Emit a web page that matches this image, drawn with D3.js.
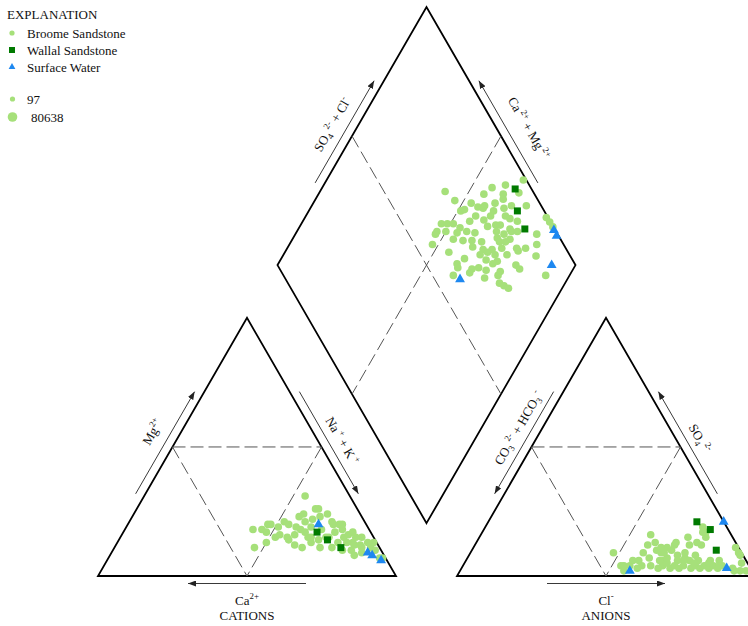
<!DOCTYPE html>
<html>
<head>
<meta charset="utf-8">
<script src="https://cdn.jsdelivr.net/npm/d3@7"></script>
<style>
  html, body { margin: 0; padding: 0; background: #fff; }
  svg { display: block; font-family: "Liberation Serif", "Times New Roman", serif; }
</style>
</head>
<body>
<svg id="chart" width="748" height="626"></svg>
<script>
// ---- Series and legend text ----
const seriesNames = ["Broome Sandstone", "Wallal Sandstone", "Surface Water"];
const sizeLegendValues = [97, 80638];

// Cation percentages per sample: [Mg2+, Na+ + K+]  (Ca2+ is the remainder)
const broomeCations = [
  [31,54],[18,43],[11,47],[17,48],[20,47],[20,48],[15,52],[13,50],[16,53],[21,52],
  [15,56],[20,54],[16,58],[12,60],[23,56],[18,59],[11,63],[21,59],[15,63],[13,65],
  [26,61],[23,63],[18,66],[15,69],[24,65],[21,68],[17,71],[13,74],[20,72],[15,75],
  [16,76],[13,79],[15,79],[12,82],[15,81],[10,80],[8,82],[9,84],[11,86],[13,86],
  [7,91],[24,57],[26,60],[20,69],[20,71],[18,73],[17,77],[13,84],[10,88],[12,80],
  [11,83],[7,92],[19,62],[17,61],[15,64],[14,67],[15,70],[11,73],[11,69],[13,77],
  [10,77],[14,57],[19,51],[18,46],[19,57],[22,61]
];
const wallalCations = [[17,65],[14,70],[11,76]];
const surfaceCations = [[20,64],[9,86],[8,88],[6,92]];

// Anion percentages per sample: [SO4 2-, Cl-]  (CO3 2- + HCO3- is the remainder)
const broomeAnions = [
  [19,73],[17,75],[15,76],[11,88],[9,90],[8,91],[2,94],[9,48],[4,53],[4,54],
  [4,56],[6,56],[6,58],[9,58],[12,58],[16,57],[13,60],[10,62],[9,64],[6,66],
  [4,67],[11,65],[10,67],[12,67],[8,70],[6,71],[4,74],[15,70],[12,72],[6,75],
  [4,78],[13,74],[6,78],[4,81],[6,82],[4,84],[6,85],[4,87],[4,63],[3,66],
  [3,70],[4,71],[4,60],[3,59],[7,73],[8,76],[3,73],[3,77],[3,80],[3,83],
  [3,86],[5,68],[17,74],[13,67],[12,76],[9,72],[7,61],[6,65],[7,67],[9,65],
  [3,91],[5,93],[2,96],[2,55],[5,82],[4,86],[6,73],[11,63],[5,77],[2,92]
];
const wallalAnions = [[21,70],[18,76],[10,82]];
const surfaceAnions = [[21,79],[3,89],[2,57]];

// Diamond field per sample: [Ca2+ + Mg2+, SO4 2- + Cl-]
const broomeDiamond = [
  [34,99],[39,92],[43,87],[58,70.5],[44.5,83],[38,89.5],[33,95],[37,88.5],[53,72],[47,77],
  [39,85],[42,81],[33,90],[28,95],[49,72],[48,73.5],[44,78.5],[42,80],[35,87],[38,83],
  [43,76],[38,81],[33,86],[31,87],[39.5,78],[44,73],[28,89],[53,63],[51,65],[49,67],
  [46,68.5],[37,78],[34.5,81],[33,82.5],[29,85],[19,99.4],[17,99.7],[15,99.8],[53,60],[53,59],
  [50,63],[46,66.5],[40,72.5],[43,70],[33,80],[30,82],[28,85],[26,87],[19,93],[46,64],
  [42.5,67],[39.5,70],[36,73],[31.5,79],[30,79],[28,81],[27,83],[52,56],[17,91],[38,69],
  [34,72],[31,75],[28,78.5],[23,83.5],[20,86.5],[45,60],[32,73],[29,75],[25,79],[22,83.5],
  [15,88.5],[40,60.5],[27,74.5],[31,71],[28,72.5],[32,67],[34,64.5],[29,69],[24,73.5],[20,80],
  [18,80.5],[39,60],[39,57],[34,63],[28,67],[24,72],[22,71],[20,72],[18,73],[8,88],
  [34,70],[38.5,64]
];
const wallalDiamond = [[35,94.5],[30,91],[24,90]];
const surfaceDiamond = [[14,99.5],[12,99.3],[8,92],[36,58.5]];

// ---- Layout ----
const side = 298, gap = 61, x0 = 98, baseY = 576;
const S = Math.sqrt(3) / 2;
const len = d3.scaleLinear().domain([0, 100]).range([0, side]);
const FS = 13;

function cationXY([mg, nak]) {
  return [x0 + len(nak) + len(mg) / 2, baseY - len(mg) * S];
}
function anionXY([so4, cl]) {
  const ax = x0 + side + gap;
  return [ax + len(cl) + len(so4) / 2, baseY - len(so4) * S];
}
function diamondXY([caMg, so4cl]) {
  const a = 100 - caMg, c = 100 - so4cl;
  const t = 2 * side + gap - len(a) - len(c);
  return [x0 + len(a) + t / 2, baseY - t * S];
}

const colors = { broome: "#a6e07a", wallal: "#007a00", surface: "#1e88f0" };

const svg = d3.select("#chart");
const defs = svg.append("defs");
defs.append("marker")
  .attr("id", "head").attr("viewBox", "0 0 8 6")
  .attr("refX", 8).attr("refY", 3)
  .attr("markerWidth", 8).attr("markerHeight", 6)
  .attr("markerUnits", "userSpaceOnUse")
  .attr("orient", "auto")
  .append("path").attr("d", "M0,0 L8,3 L0,6 Z").attr("fill", "#222");

const line = d3.line();
const frame = svg.append("g");
const dashes = svg.append("g");

// Cation and anion triangles
[cationXY, anionXY].forEach(f => {
  frame.append("path")
    .attr("d", line([f([0,0]), f([0,100]), f([100,0])]) + "Z")
    .attr("fill", "none").attr("stroke", "#000").attr("stroke-width", 1.8)
    .attr("stroke-linejoin", "miter");
  const lm = f([50,0]), rm = f([50,50]), bm = f([0,50]);
  [[lm, rm], [lm, bm], [rm, bm]].forEach(seg => {
    dashes.append("path").attr("d", line(seg))
      .attr("fill", "none").attr("stroke", "#555").attr("stroke-width", 1)
      .attr("stroke-dasharray", "13,5");
  });
});

// Diamond
frame.append("path")
  .attr("d", line([diamondXY([0,0]), diamondXY([0,100]), diamondXY([100,100]), diamondXY([100,0])]) + "Z")
  .attr("fill", "none").attr("stroke", "#000").attr("stroke-width", 1.8);
[[[100,50],[0,50]], [[50,100],[50,0]]].forEach(([p, q]) => {
  dashes.append("path").attr("d", line([diamondXY(p), diamondXY(q)]))
    .attr("fill", "none").attr("stroke", "#555").attr("stroke-width", 1)
    .attr("stroke-dasharray", "13,5");
});

// ---- Rich text helper (sub/superscripts) ----
function richText(sel, parts, size) {
  const text = sel.append("text").attr("text-anchor", "middle")
    .attr("font-size", size).attr("fill", "#111");
  let shift = 0;
  parts.forEach(([str, kind]) => {
    const target = kind === "sup" ? -5.5 : kind === "sub" ? 3 : 0;
    text.append("tspan")
      .attr("dy", target - shift)
      .attr("font-size", kind ? size * 0.68 : size)
      .text(str);
    shift = target;
  });
  return text;
}

// ---- Edge arrows with axis labels ----
function edgeAxis(A, B, outward, headAtTop, labelOff, labelShift, angle, parts) {
  const dx = B[0] - A[0], dy = B[1] - A[1];
  const L = Math.hypot(dx, dy);
  const u = [dx / L, dy / L];
  const n = outward;
  const M = [(A[0] + B[0]) / 2, (A[1] + B[1]) / 2];
  const half = 59, off = 8.5;
  const p1 = [M[0] - half * u[0] + off * n[0], M[1] - half * u[1] + off * n[1]];
  const p2 = [M[0] + half * u[0] + off * n[0], M[1] + half * u[1] + off * n[1]];
  const [from, to] = headAtTop ? [p1, p2] : [p2, p1];
  svg.append("line")
    .attr("x1", from[0]).attr("y1", from[1]).attr("x2", to[0]).attr("y2", to[1])
    .attr("stroke", "#222").attr("stroke-width", 0.9)
    .attr("marker-end", "url(#head)");
  const c = [M[0] + labelOff * n[0] + labelShift * u[0], M[1] + labelOff * n[1] + labelShift * u[1]];
  const g = svg.append("g").attr("transform", `translate(${c[0]},${c[1]}) rotate(${angle})`);
  richText(g, parts, FS).attr("y", 4.5);
}

const nL = [-S, -0.5], nR = [S, -0.5];
// Cation triangle
edgeAxis(cationXY([0,0]), cationXY([100,0]), nL, true, 25, 3, -60,
  [["Mg"], ["2+", "sup"]]);
edgeAxis(cationXY([0,100]), cationXY([100,0]), nR, false, 21, -5, 60,
  [["Na"], [" +", "sup"], [" + K"], [" +", "sup"]]);
// Anion triangle
edgeAxis(anionXY([0,0]), anionXY([100,0]), nL, false, 21, 10, -60,
  [["CO"], ["3", "sub"], [" 2-", "sup"], [" + HCO"], ["3", "sub"], [" -", "sup"]]);
edgeAxis(anionXY([0,100]), anionXY([100,0]), nR, true, 21, -2, 60,
  [["SO"], ["4", "sub"], [" 2-", "sup"]]);
// Diamond
edgeAxis(diamondXY([100,0]), diamondXY([100,100]), nL, true, 23, 0, -60,
  [["SO"], ["4", "sub"], [" 2-", "sup"], [" + Cl"], ["-", "sup"]]);
edgeAxis(diamondXY([0,100]), diamondXY([100,100]), nR, true, 28, -7, 60,
  [["Ca"], [" 2+", "sup"], [" + Mg"], [" 2+", "sup"]]);

// ---- Base arrows and titles ----
function baseAxis(f, headRight, parts, title) {
  const mid = f([0,50]);
  const y = baseY + 7.5;
  const a = mid[0] - 59, b = mid[0] + 59;
  svg.append("line")
    .attr("x1", headRight ? a : b).attr("y1", y)
    .attr("x2", headRight ? b : a).attr("y2", y)
    .attr("stroke", "#222").attr("stroke-width", 0.9)
    .attr("marker-end", "url(#head)");
  richText(svg, parts, FS).attr("x", mid[0]).attr("y", 604.5)
    .selectAll("tspan").filter((d, i) => i === 0).attr("x", mid[0]);
  svg.append("text").attr("x", mid[0]).attr("y", 619.5)
    .attr("text-anchor", "middle").attr("font-size", FS).attr("fill", "#111")
    .text(title);
}
baseAxis(cationXY, false, [["Ca"], ["2+", "sup"]], "CATIONS");
baseAxis(anionXY, true, [["Cl"], ["-", "sup"]], "ANIONS");

// ---- Sample markers ----
const marks = svg.append("g");
function drawCircles(data, f) {
  marks.append("g").selectAll("circle").data(data).join("circle")
    .attr("cx", d => f(d)[0]).attr("cy", d => f(d)[1])
    .attr("r", 3.8).attr("fill", colors.broome);
}
function drawSquares(data, f) {
  marks.append("g").selectAll("rect").data(data).join("rect")
    .attr("x", d => f(d)[0] - 3.5).attr("y", d => f(d)[1] - 3.5)
    .attr("width", 7).attr("height", 7).attr("fill", colors.wallal);
}
const tri = d3.symbol().type(d3.symbolTriangle).size(42);
function drawTriangles(data, f) {
  marks.append("g").selectAll("path").data(data).join("path")
    .attr("transform", d => `translate(${f(d)[0]},${f(d)[1]})`)
    .attr("d", tri).attr("fill", colors.surface);
}
drawCircles(broomeCations, cationXY);
drawCircles(broomeAnions, anionXY);
drawCircles(broomeDiamond, diamondXY);
drawSquares(wallalCations, cationXY);
drawSquares(wallalAnions, anionXY);
drawSquares(wallalDiamond, diamondXY);
drawTriangles(surfaceCations, cationXY);
drawTriangles(surfaceAnions, anionXY);
drawTriangles(surfaceDiamond, diamondXY);

// ---- Legend ----
const legend = svg.append("g");
legend.append("text").attr("x", 7).attr("y", 18.5)
  .attr("font-size", FS).attr("fill", "#111").text("EXPLANATION");
const rows = [33, 50, 67];
legend.append("circle").attr("cx", 12).attr("cy", rows[0]).attr("r", 2.6).attr("fill", colors.broome);
legend.append("rect").attr("x", 9).attr("y", rows[1] - 3).attr("width", 6).attr("height", 6).attr("fill", colors.wallal);
legend.append("path").attr("transform", `translate(12,${rows[2]})`)
  .attr("d", d3.symbol().type(d3.symbolTriangle).size(20)).attr("fill", colors.surface);
seriesNames.forEach((name, i) => {
  legend.append("text").attr("x", 27).attr("y", rows[i] + 4.5)
    .attr("font-size", FS).attr("fill", "#111").text(name);
});
const sizeRows = [{ y: 99, r: 2.6, x: 27 }, { y: 117, r: 4.8, x: 31 }];
sizeLegendValues.forEach((v, i) => {
  const s = sizeRows[i];
  legend.append("circle").attr("cx", 12.5).attr("cy", s.y).attr("r", s.r).attr("fill", colors.broome);
  legend.append("text").attr("x", s.x).attr("y", s.y + 4.5)
    .attr("font-size", FS).attr("fill", "#111").text(String(v));
});
</script>
</body>
</html>
